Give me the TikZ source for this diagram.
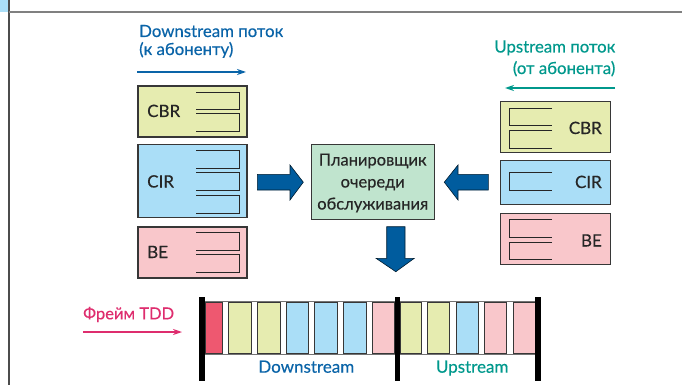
\documentclass[tikz,border=0pt]{standalone}
\usepackage{fontspec}
\setmainfont{Lato}[FakeBold=0.35]
\usetikzlibrary{arrows.meta}
\definecolor{dsblue}{RGB}{10,100,168}
\definecolor{upteal}{RGB}{0,152,140}
\definecolor{tddpink}{RGB}{222,45,110}
\definecolor{cyel}{RGB}{230,236,176}
\definecolor{cblu}{RGB}{170,222,247}
\definecolor{cpnk}{RGB}{249,199,203}
\definecolor{cred}{RGB}{238,88,112}
\definecolor{cgrn}{RGB}{192,228,206}
\definecolor{barrow}{RGB}{0,92,158}
\definecolor{edge}{RGB}{55,55,55}
\tikzset{
  qbox/.style={draw=edge, line width=1.1pt, inner sep=0pt},
  qline/.style={draw=black!85, line width=0.9pt},
  blab/.style={font=\fontsize{17}{20}\selectfont, text=black!85, inner sep=0pt},
  ttl/.style={font=\fontsize{16.8}{18}\selectfont, inner sep=0pt},
  slot/.style={draw=edge, line width=0.8pt},
  tddbar/.style={fill=black},
  blockarrow/.style={fill=barrow, draw=black!70!barrow, line width=0.6pt},
}
\begin{document}
\begin{tikzpicture}[x=1pt,y=-1pt]
\useasboundingbox (0,0) rectangle (682,385);
% page frame
\fill[cblu] (0,0) rectangle (8,12);
\draw[black!70, line width=2pt] (8.5,0) -- (8.5,385);
\draw[black!50, line width=1.8pt] (8.5,12) -- (682,12);

% titles
\node[ttl, text=dsblue, anchor=base west] (dstitle) at (139,37) {Downstream поток};
\node[ttl, text=dsblue, anchor=base west] (dstitle2) at (139,55) {(к абоненту)};
\coordinate (dsa) at (137,72);
\coordinate (dsb) at (246,72);
\draw[dsblue, line width=1.2pt, -{Stealth[length=9pt,width=6pt]}] (dsa) -- (dsb);

\node[ttl, text=upteal, anchor=base east] (uptitle) at (615.5,52.5) {Upstream поток};
\node[ttl, text=upteal, anchor=base east] (uptitle2) at (615.5,74) {(от абонента)};
\coordinate (upa) at (615,88);
\coordinate (upb) at (505,88);
\draw[upteal, line width=1.2pt, -{Stealth[length=9pt,width=6pt]}] (upa) -- (upb);

% left queues
\node[qbox, fill=cyel, minimum width=109pt, minimum height=51pt] (lcbr) at (192.5,111.5) {};
\node[qbox, fill=cblu, minimum width=109pt, minimum height=73.5pt] (lcir) at (192.5,181) {};
\node[qbox, fill=cpnk, minimum width=109pt, minimum height=51pt] (lbe) at (192.5,252.5) {};
\node[blab, anchor=base west] (lcbrt) at (147,117) {CBR};
\node[blab, anchor=base west] (lcirt) at (147,187.5) {CIR};
\node[blab, anchor=base west] (lbet) at (147,258) {BE};
\draw[qline] (196,92) -| (239,109) -- (196,109);
\draw[qline] (196,113) -| (239,131) -- (196,131);
\draw[qline] (196,150) -| (239,168) -- (196,168);
\draw[qline] (196,172.5) -| (239,190) -- (196,190);
\draw[qline] (196,195) -| (239,213) -- (196,213);
\draw[qline] (196,232.5) -| (239,250) -- (196,250);
\draw[qline] (196,254.5) -| (239,272) -- (196,272);

% right queues
\node[qbox, fill=cyel, minimum width=110pt, minimum height=51pt] (rcbr) at (555.7,127.2) {};
\node[qbox, fill=cblu, minimum width=110pt, minimum height=44.3pt] (rcir) at (555.7,182.2) {};
\node[qbox, fill=cpnk, minimum width=110pt, minimum height=51pt] (rbe) at (555.7,238.8) {};
\node[blab, anchor=base east] (rcbrt) at (602,134) {CBR};
\node[blab, anchor=base east] (rcirt) at (602,188) {CIR};
\node[blab, anchor=base east] (rbet) at (602,246.5) {BE};
\draw[qline] (552,108) -| (509,125) -- (552,125);
\draw[qline] (552,130) -| (509,148) -- (552,148);
\draw[qline] (552,172.5) -| (509,190) -- (552,190);
\draw[qline] (552,219.5) -| (509,237) -- (552,237);
\draw[qline] (552,242) -| (509,259.5) -- (552,259.5);

% scheduler
\node[qbox, fill=cgrn, minimum width=123.3pt, minimum height=75.3pt] (sched) at (372.7,181.7) {};
\node[font=\fontsize{16.5}{22}\selectfont, text=black!85, align=center, inner sep=0pt, anchor=base] (schedt) at (372.7,209.5)
  {Планировщик\\очереди\\обслуживания};

% block arrows
\path[blockarrow] (257.3,174.3) -- (290,174.3) -- (290,165) -- (303.3,182.2) -- (290,200) -- (290,190) -- (257.3,190) -- cycle;
\path[blockarrow] (488.3,174.3) -- (458,174.3) -- (458,165) -- (444.3,182.2) -- (458,200) -- (458,190) -- (488.3,190) -- cycle;
\path[blockarrow] (386.7,226.7) -- (405,226.7) -- (405,258.3) -- (414.3,258.3) -- (395.8,271.7) -- (376,258.3) -- (386.7,258.3) -- cycle;

% TDD frame
\node[ttl, text=tddpink, anchor=base west, font=\fontsize{16.5}{18}\selectfont] (tddt) at (83,319.3) {Фрейм TDD};
\coordinate (tdda) at (83,332);
\coordinate (tddb) at (182,332);
\draw[tddpink, line width=1.2pt, -{Stealth[length=9pt,width=6pt]}] (tdda) -- (tddb);

\draw[edge!70, line width=1pt, fill=white] (205,301.7) rectangle (535,354);
\path[slot, fill=cred] (205,302) rectangle (222,353.5);
\path[slot, fill=cyel] (228,302) rectangle (251,353.5);
\path[slot, fill=cyel] (257,302) rectangle (280,353.5);
\path[slot, fill=cblu] (286,302) rectangle (308,353.5);
\path[slot, fill=cblu] (314.5,302) rectangle (337,353.5);
\path[slot, fill=cblu] (343.3,302) rectangle (366,353.5);
\path[slot, fill=cpnk] (372.3,302) rectangle (394.5,353.5);
\path[slot, fill=cyel] (400,302) rectangle (421,353.5);
\path[slot, fill=cyel] (427.3,302) rectangle (449.3,353.5);
\path[slot, fill=cblu] (456,302) rectangle (478,353.5);
\path[slot, fill=cpnk] (484.3,302) rectangle (506.7,353.5);
\path[slot, fill=cpnk] (513.3,302) rectangle (535,353.5);
\path[tddbar] (199.3,296.7) rectangle (205,380.7);
\path[tddbar] (394.5,296.7) rectangle (400.2,380.7);
\path[tddbar] (535,296.7) rectangle (541,380.7);

\node[ttl, text=dsblue, anchor=base, font=\fontsize{17}{20}\selectfont] (dsl) at (306.3,372.7) {Downstream};
\node[ttl, text=upteal, anchor=base, font=\fontsize{17}{20}\selectfont] (upl) at (472.2,372.7) {Upstream};
\end{tikzpicture}
\end{document}
